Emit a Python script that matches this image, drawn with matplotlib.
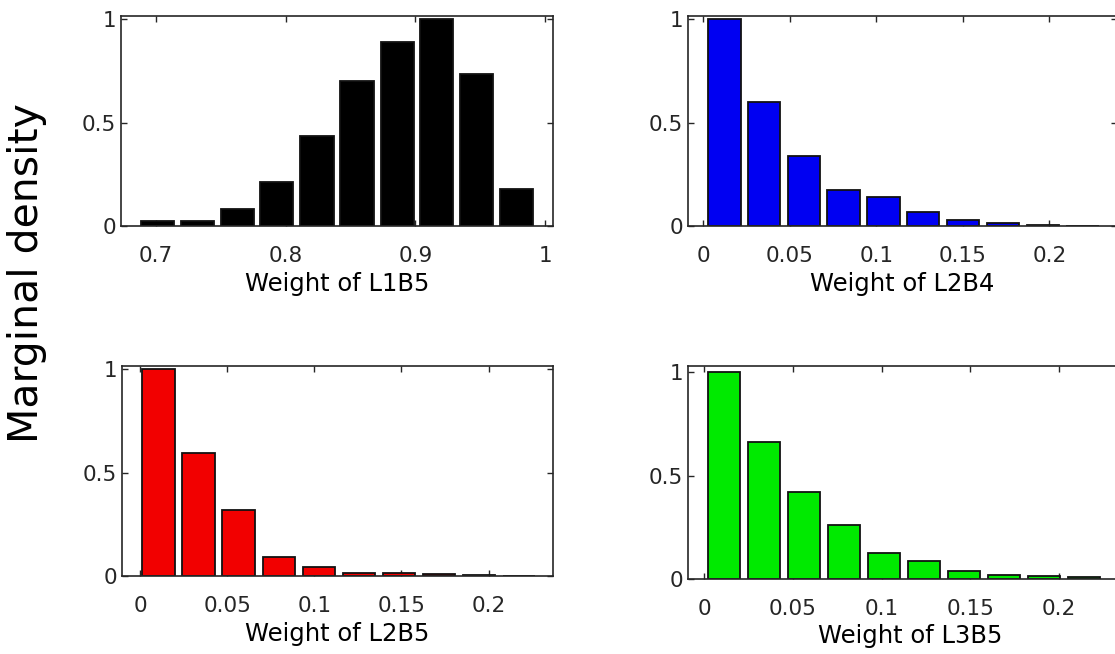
import matplotlib
matplotlib.use("Agg")
import matplotlib.pyplot as plt

# ---- data ----
l1b5_centers = [0.701, 0.732, 0.763, 0.793, 0.824, 0.855, 0.886, 0.916, 0.947, 0.978]
l1b5_density = [0.026, 0.026, 0.084, 0.211, 0.436, 0.700, 0.889, 1.000, 0.736, 0.179]

l2b4_centers = [0.0123, 0.0351, 0.0581, 0.0811, 0.1041, 0.1271, 0.1501, 0.1731, 0.1961, 0.2191]
l2b4_density = [1.000, 0.597, 0.338, 0.173, 0.139, 0.068, 0.028, 0.013, 0.005, 0.002]

l2b5_centers = [0.0105, 0.0336, 0.0566, 0.0796, 0.1026, 0.1256, 0.1486, 0.1716, 0.1946, 0.2176]
l2b5_density = [1.000, 0.595, 0.317, 0.092, 0.042, 0.013, 0.016, 0.012, 0.004, 0.002]

l3b5_centers = [0.0114, 0.0339, 0.0564, 0.0789, 0.1014, 0.1239, 0.1464, 0.1689, 0.1914, 0.2139]
l3b5_density = [1.000, 0.662, 0.418, 0.262, 0.123, 0.084, 0.039, 0.019, 0.011, 0.006]

xticks_a = [0.7, 0.8, 0.9, 1.0]
xticklabels_a = ["0.7", "0.8", "0.9", "1"]
xticks_b = [0, 0.05, 0.1, 0.15, 0.2]
xticklabels_b = ["0", "0.05", "0.1", "0.15", "0.2"]
yticks = [0, 0.5, 1]
yticklabels = ["0", "0.5", "1"]

W, H = 1115, 654
fig = plt.figure(figsize=(W / 100, H / 100), dpi=100)
plt.rcParams['font.family'] = ['DejaVu Sans']

AX = '#262626'

def px_axes(left, right, top, bottom):
    return [left / W, (H - bottom) / H, (right - left) / W, (bottom - top) / H]

panels = [
    dict(pos=px_axes(121, 553, 15.7, 226), x=l1b5_centers, y=l1b5_density, w=0.0257,
         color='#000000', xlim=(0.673, 1.006), ylim=(0, 1.016),
         xt=xticks_a, xtl=xticklabels_a, label='Weight of L1B5'),
    dict(pos=px_axes(687.7, 1117, 15.7, 226), x=l2b4_centers, y=l2b4_density, w=0.0187,
         color='#0000f2', xlim=(-0.009, 0.239), ylim=(0, 1.016),
         xt=xticks_b, xtl=xticklabels_b, label='Weight of L2B4'),
    dict(pos=px_axes(121.7, 553, 365.7, 576), x=l2b5_centers, y=l2b5_density, w=0.0186,
         color='#f20000', xlim=(-0.0105, 0.237), ylim=(0, 1.016),
         xt=xticks_b, xtl=xticklabels_b, label='Weight of L2B5'),
    dict(pos=px_axes(687.7, 1132, 365.7, 578.7), x=l3b5_centers, y=l3b5_density, w=0.0181,
         color='#00ea00', xlim=(-0.0092, 0.241), ylim=(0, 1.032),
         xt=xticks_b, xtl=xticklabels_b, label='Weight of L3B5'),
]

for p in panels:
    ax = fig.add_axes(p['pos'])
    ax.bar(p['x'], p['y'], width=p['w'], color=p['color'], edgecolor='#111111',
           linewidth=1.3, zorder=2)
    ax.set_xlim(*p['xlim'])
    ax.set_ylim(*p['ylim'])
    ax.set_xticks(p['xt'])
    ax.set_xticklabels(p['xtl'])
    ax.set_yticks(yticks)
    ax.set_yticklabels(yticklabels)
    ax.tick_params(direction='in', length=4.5, width=1.0, colors=AX, labelsize=15.5,
                   top=True, right=True, labelcolor='#262626')
    ax.tick_params(axis='x', pad=14.5)
    ax.tick_params(axis='y', pad=3.5)
    for s in ax.spines.values():
        s.set_color(AX)
        s.set_linewidth(1.2)
        s.set_zorder(3)
    ax.set_xlabel(p['label'], fontsize=17.5, color='black', labelpad=4)

fig.text(27.5 / W, (H - 273.5) / H, 'Marginal density', rotation=90,
         ha='center', va='center', fontsize=29.5, color='black')

fig.savefig('out.png', dpi=100)
